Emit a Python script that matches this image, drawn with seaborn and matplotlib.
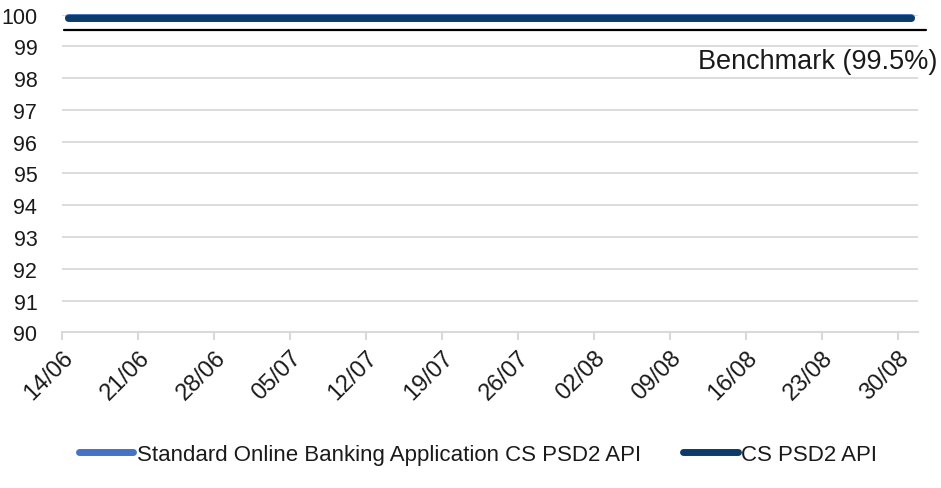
import pandas as pd
import matplotlib.pyplot as plt
import matplotlib.transforms as mtransforms
import seaborn as sns

# Datos (disponibilidad, %)
fechas = ["2019-06-14 13:00", "2019-06-21 12:00", "2019-06-28 12:00", "2019-07-05 12:00",
          "2019-07-12 12:00", "2019-07-19 12:00", "2019-07-26 12:00", "2019-08-02 12:00",
          "2019-08-09 12:00", "2019-08-16 12:00", "2019-08-23 12:00", "2019-08-30 12:00",
          "2019-08-31 05:00"]
standard_online = [99.92, 99.92, 99.92, 99.92, 99.92, 99.92, 99.92,
                   99.92, 99.92, 99.92, 99.92, 99.92, 99.92]
cs_psd2_api = [99.9, 99.9, 99.9, 99.9, 99.9, 99.9, 99.9,
               99.9, 99.9, 99.9, 99.9, 99.9, 99.9]
benchmark = 99.5
etiquetas_x = ["14/06", "21/06", "28/06", "05/07", "12/07", "19/07",
               "26/07", "02/08", "09/08", "16/08", "23/08", "30/08"]
etiquetas_y = [90, 91, 92, 93, 94, 95, 96, 97, 98, 99, 100]

COLOR_CLARO = "#4472C4"
COLOR_OSCURO = "#0B3B6B"
GRIS = "#D9D9D9"

sns.set_theme(style="white")
plt.rcParams["font.family"] = ["Liberation Sans", "DejaVu Sans"]

df = pd.DataFrame({
    "fecha": pd.to_datetime(fechas),
    "Standard Online Banking Application CS PSD2 API": standard_online,
    "CS PSD2 API": cs_psd2_api,
})
df_largo = df.melt(id_vars="fecha", var_name="serie", value_name="valor")

fig = plt.figure(figsize=(9.41, 4.89), dpi=100)
ax = fig.add_axes([0.0662, 0.3184, 0.9090, 0.6499])

sns.lineplot(data=df_largo, x="fecha", y="valor", hue="serie",
             palette=[COLOR_CLARO, COLOR_OSCURO], linewidth=5,
             solid_capstyle="round", ax=ax, legend=True)
for linea in ax.get_lines():
    linea.set_clip_on(False)

# Línea de referencia
trans = mtransforms.blended_transform_factory(ax.transAxes, ax.transData)
ax.plot([0.002, 1.0095], [benchmark, benchmark], color="black", linewidth=1.6,
        transform=trans, clip_on=False, zorder=4)
ax.text(1.0235, 98.55, "Benchmark (99.5%)", transform=trans, ha="right",
        va="center", fontsize=19.5, color="#1a1a1a")

inicio = pd.Timestamp("2019-06-14")
ax.set_xlim(inicio, inicio + pd.Timedelta(days=78.8))
ax.set_ylim(90, 100)
ax.set_yticks(etiquetas_y)
ax.set_yticklabels([str(v) for v in etiquetas_y])
ticks_x = pd.date_range(inicio, periods=len(etiquetas_x), freq="7D")
ax.set_xticks(ticks_x)
ax.set_xticklabels(etiquetas_x, rotation=45, ha="right", va="top",
                   rotation_mode="anchor")
desplaza = mtransforms.ScaledTranslation(6 / 100, 0, fig.dpi_scale_trans)
for etiqueta in ax.get_xticklabels():
    etiqueta.set_transform(etiqueta.get_transform() + desplaza)

ax.grid(axis="y", color=GRIS, linewidth=1.3)
ax.set_axisbelow(True)
for lado in ["top", "right", "left"]:
    ax.spines[lado].set_visible(False)
ax.spines["bottom"].set_color(GRIS)
ax.spines["bottom"].set_linewidth(1.5)
ax.tick_params(axis="x", which="major", bottom=True, length=6, width=1.5,
               color=GRIS, labelsize=17, pad=4, labelcolor="#1a1a1a")
ax.tick_params(axis="y", left=False, labelsize=15.5, pad=12, labelcolor="#1a1a1a")
ax.set_xlabel("")
ax.set_ylabel("")

handles, labels = ax.get_legend_handles_labels()
leg = ax.legend(handles, labels, loc="center", bbox_to_anchor=(0.486, -0.385),
                ncol=2, frameon=False, fontsize=16, handlelength=2.45,
                handletextpad=0.15, columnspacing=1.9,
                bbox_transform=ax.transAxes)
for h in leg.get_lines():
    h.set_linewidth(5)
    h.set_solid_capstyle("round")
for t in leg.get_texts():
    t.set_color("#1a1a1a")

fig.savefig("out.png", dpi=100)
plt.close(fig)
